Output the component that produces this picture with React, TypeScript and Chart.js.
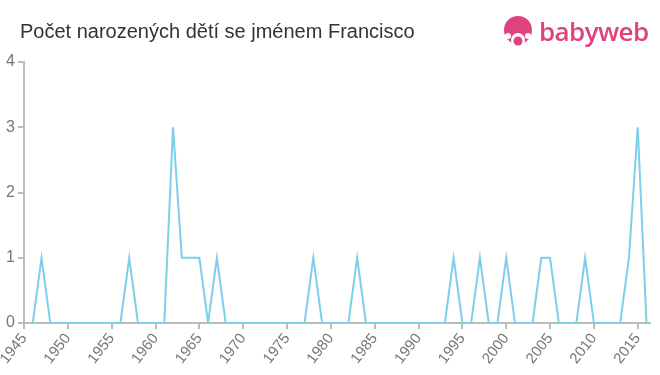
import React, { useEffect, useRef } from "react";
import { Chart, registerables } from "chart.js";

Chart.register(...registerables);

const TITLE = "Počet narozených dětí se jménem Francisco";
const years: number[] = [];
for (let y = 1946; y <= 2016; y++) years.push(y);
// counts per year 1946..2016
const counts: number[] = [
  0, 1, 0, 0, 0, 0, 0, 0, 0, 0, // 1946-1955
  0, 1, 0, 0, 0, 0, 3, 1, 1, 1, // 1956-1965
  0, 1, 0, 0, 0, 0, 0, 0, 0, 0, // 1966-1975
  0, 0, 1, 0, 0, 0, 0, 1, 0, 0, // 1976-1985
  0, 0, 0, 0, 0, 0, 0, 0, 1, 0, // 1986-1995
  0, 1, 0, 0, 1, 0, 0, 0, 1, 1, // 1996-2005
  0, 0, 0, 1, 0, 0, 0, 0, 1, 3, // 2006-2015
  0, // 2016
];
const xTicks = [1945, 1950, 1955, 1960, 1965, 1970, 1975, 1980, 1985, 1990, 1995, 2000, 2005, 2010, 2015];
const yTicks = [0, 1, 2, 3, 4];

export default function App() {
  const ref = useRef<HTMLCanvasElement | null>(null);
  useEffect(() => {
    if (!ref.current) return;
    const chart = new Chart(ref.current, {
      type: "line",
      data: {
        datasets: [
          {
            data: years.map((y, i) => ({ x: y, y: counts[i] })),
            borderColor: "#7dcfec",
            borderWidth: 2,
            pointRadius: 0,
            tension: 0,
            fill: false,
          },
        ],
      },
      options: {
        animation: false,
        responsive: false,
        maintainAspectRatio: false,
        layout: { padding: { top: 62, right: 10, left: 0, bottom: 0 } },
        plugins: { legend: { display: false }, tooltip: { enabled: false }, title: { display: false } },
        scales: {
          x: {
            type: "linear",
            min: 1945,
            max: 2016.4,
            afterBuildTicks: (s: any) => {
              s.ticks = xTicks.map((v) => ({ value: v }));
            },
            afterFit: (s: any) => {
              s.height = 52;
            },
            grid: { display: true, drawOnChartArea: false, drawTicks: true, tickLength: 6, tickColor: "#bbbbbb", lineWidth: 2 },
            border: { display: true, color: "#bbbbbb", width: 2 },
            ticks: {
              autoSkip: false,
              minRotation: 52,
              maxRotation: 52,
              color: "#777777",
              font: { family: "Liberation Sans, Arial, sans-serif", size: 15 },
              padding: 1,
              callback: (v: any) => String(v),
            },
          },
          y: {
            min: 0,
            max: 4,
            afterBuildTicks: (s: any) => {
              s.ticks = yTicks.map((v) => ({ value: v }));
            },
            afterFit: (s: any) => {
              s.width = 24;
            },
            grid: { display: true, drawOnChartArea: false, drawTicks: true, tickLength: 6, tickColor: "#bbbbbb", lineWidth: 2 },
            border: { display: true, color: "#bbbbbb", width: 2 },
            ticks: {
              color: "#777777",
              font: { family: "Liberation Sans, Arial, sans-serif", size: 16 },
              padding: 3,
            },
          },
        },
      },
    });
    return () => chart.destroy();
  }, []);

  return (
    <div style={{ position: "fixed", left: 0, top: 0, width: 660, height: 375, background: "#fff", overflow: "hidden" }}>
      <canvas ref={ref} width={660} height={375} style={{ position: "absolute", left: 0, top: 0, width: 660, height: 375 }} />
      <div
        style={{
          position: "absolute",
          left: 20,
          top: 19,
          fontFamily: "Liberation Sans, Arial, sans-serif",
          fontSize: 20,
          color: "#333333",
          lineHeight: "24px",
          whiteSpace: "nowrap",
        }}
      >
        {TITLE}
      </div>
      <div style={{ position: "absolute", left: 502, top: 16, width: 34, height: 32 }}>
        <svg width="34" height="32" viewBox="0 0 34 32">
          <circle cx="16" cy="14" r="14" fill="#e0417f" />
          <circle cx="16" cy="24" r="7" fill="#fff" />
          <circle cx="16" cy="25" r="4.5" fill="#e0417f" />
          <circle cx="6" cy="20" r="3" fill="#fff" />
          <circle cx="26" cy="20" r="3" fill="#fff" />
        </svg>
      </div>
      <div
        style={{
          position: "absolute",
          left: 539,
          top: 14,
          fontFamily: "Open Sans, sans-serif",
          fontWeight: 600,
          fontSize: 26,
          color: "#e0417f",
          lineHeight: "34px",
          whiteSpace: "nowrap",
          letterSpacing: -0.6,
        }}
      >
        babyweb
      </div>
    </div>
  );
}
